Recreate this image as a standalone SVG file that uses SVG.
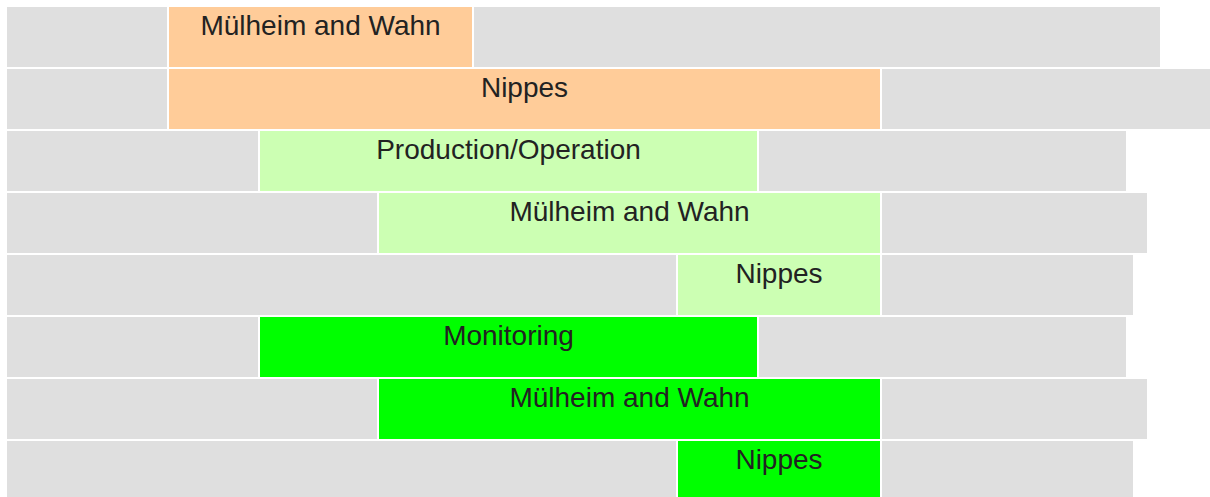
<svg xmlns="http://www.w3.org/2000/svg" width="1210" height="497" viewBox="0 0 1210 497">
  <style>
    .bg { fill: #dfdfdf; }
    .org { fill: #ffcc99; }
    .lgr { fill: #ccffb3; }
    .grn { fill: #00ff00; }
    text { font-family: "Liberation Sans", Arial, sans-serif; font-size: 28px; fill: #222222; text-anchor: middle; }
  </style>
  <rect width="1210" height="497" fill="#ffffff"/>

  <!-- Row 1 -->
  <g id="row1">
    <rect class="bg" x="7" y="7" width="160" height="60"/>
    <rect class="org" x="169" y="7" width="303" height="60"/>
    <rect class="bg" x="474" y="7" width="686" height="60"/>
    <text x="320.5" y="35">Mülheim and Wahn</text>
  </g>

  <!-- Row 2 -->
  <g id="row2">
    <rect class="bg" x="7" y="69" width="160" height="60"/>
    <rect class="org" x="169" y="69" width="711" height="60"/>
    <rect class="bg" x="882" y="69" width="328" height="60"/>
    <text x="524.5" y="97">Nippes</text>
  </g>

  <!-- Row 3 -->
  <g id="row3">
    <rect class="bg" x="7" y="131" width="251" height="60"/>
    <rect class="lgr" x="260" y="131" width="497" height="60"/>
    <rect class="bg" x="759" y="131" width="367" height="60"/>
    <text x="508.5" y="159">Production/Operation</text>
  </g>

  <!-- Row 4 -->
  <g id="row4">
    <rect class="bg" x="7" y="193" width="370" height="60"/>
    <rect class="lgr" x="379" y="193" width="501" height="60"/>
    <rect class="bg" x="882" y="193" width="265" height="60"/>
    <text x="629.5" y="221">Mülheim and Wahn</text>
  </g>

  <!-- Row 5 -->
  <g id="row5">
    <rect class="bg" x="7" y="255" width="669" height="60"/>
    <rect class="lgr" x="678" y="255" width="202" height="60"/>
    <rect class="bg" x="882" y="255" width="251" height="60"/>
    <text x="779" y="283">Nippes</text>
  </g>

  <!-- Row 6 -->
  <g id="row6">
    <rect class="bg" x="7" y="317" width="251" height="60"/>
    <rect class="grn" x="260" y="317" width="497" height="60"/>
    <rect class="bg" x="759" y="317" width="367" height="60"/>
    <text x="508.5" y="345">Monitoring</text>
  </g>

  <!-- Row 7 -->
  <g id="row7">
    <rect class="bg" x="7" y="379" width="370" height="60"/>
    <rect class="grn" x="379" y="379" width="501" height="60"/>
    <rect class="bg" x="882" y="379" width="265" height="60"/>
    <text x="629.5" y="407">Mülheim and Wahn</text>
  </g>

  <!-- Row 8 -->
  <g id="row8">
    <rect class="bg" x="7" y="441" width="669" height="60"/>
    <rect class="grn" x="678" y="441" width="202" height="60"/>
    <rect class="bg" x="882" y="441" width="251" height="60"/>
    <text x="779" y="469">Nippes</text>
  </g>

  <g id="connectors"/>
</svg>
